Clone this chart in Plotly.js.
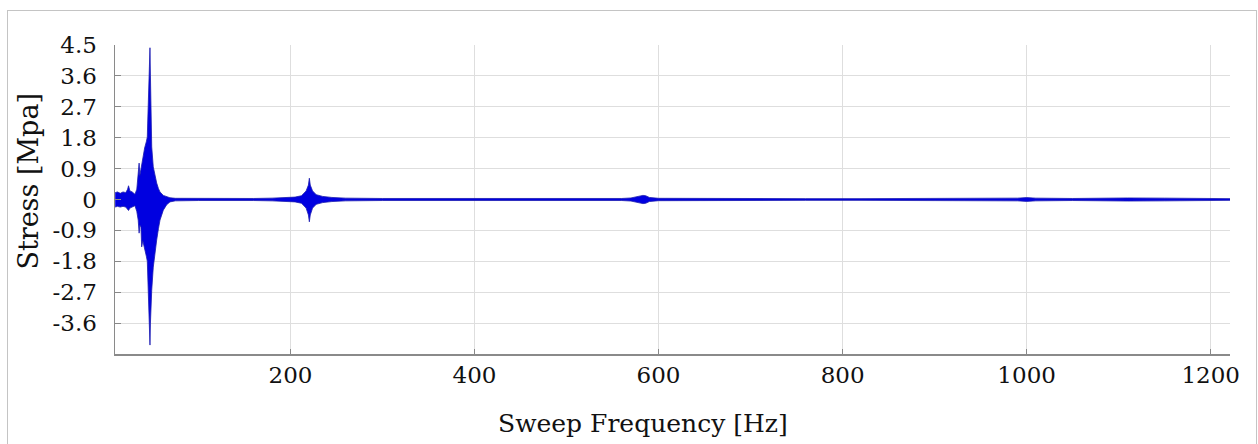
<!DOCTYPE html>
<html>
<head>
<meta charset="utf-8">
<script src="https://cdn.plot.ly/plotly-3.0.1.min.js"></script>
<style>
  html, body { margin: 0; padding: 0; background: #fff; }
  #chart { position: absolute; left: 0; top: 0; width: 1258px; height: 444px; }
  #frame { position: absolute; left: 7px; top: 10px; width: 1248px; height: 450px;
           border: 1px solid #c4c4c4; pointer-events: none; }
</style>
</head>
<body>
<div id="chart"></div>
<div id="frame"></div>
<script>
const freqHz = [9.5, 12, 15, 18, 21, 23, 24, 25.5, 28, 31, 33, 34.5, 35.5, 36.3, 37.5, 38.3, 39.5, 41.5, 43.5, 44.4, 44.8, 45.5, 46.2, 46.8, 47.3, 47.8, 48.4, 49.2, 50.9, 52.5, 54.6, 56.5, 58.2, 61.8, 65.5, 69, 75,
  100, 130, 160, 180, 195, 205, 212, 217, 219.5, 220.5, 221.5, 224, 228, 235, 245, 260, 300, 360, 420, 480, 530, 560, 570, 575, 580, 583, 586, 590, 600,
  650, 700, 760, 820, 880, 940, 990, 1000, 1010, 1050, 1070, 1080, 1110, 1150, 1170, 1200, 1221];
const upperMPa = [0.20, 0.22, 0.18, 0.22, 0.20, 0.30, 0.40, 0.25, 0.22, 0.15, 0.30, 0.80, 1.06, 0.70, 0.90, 1.10, 1.30, 1.50, 1.70, 1.82, 2.20, 2.70, 3.40, 4.00, 4.42, 3.60, 2.40, 1.53, 0.95, 0.70, 0.48, 0.32, 0.22, 0.12, 0.08, 0.05, 0.035,
  0.03, 0.025, 0.03, 0.04, 0.05, 0.07, 0.11, 0.25, 0.42, 0.62, 0.42, 0.25, 0.14, 0.09, 0.06, 0.04, 0.03, 0.025, 0.025, 0.025, 0.025, 0.03, 0.045, 0.08, 0.11, 0.12, 0.11, 0.06, 0.035,
  0.025, 0.025, 0.025, 0.025, 0.025, 0.03, 0.04, 0.055, 0.04, 0.03, 0.035, 0.05, 0.045, 0.04, 0.03, 0.025, 0.025];
const lowerMPa = [-0.22, -0.20, -0.22, -0.20, -0.22, -0.28, -0.32, -0.25, -0.22, -0.18, -0.35, -0.60, -0.98, -0.75, -0.80, -1.38, -1.20, -1.40, -1.67, -1.80, -2.14, -2.50, -3.20, -3.80, -4.24, -3.60, -2.90, -2.64, -1.97, -1.55, -1.18, -0.85, -0.60, -0.31, -0.15, -0.07, -0.04,
  -0.03, -0.025, -0.03, -0.04, -0.05, -0.07, -0.11, -0.25, -0.45, -0.65, -0.45, -0.25, -0.14, -0.09, -0.06, -0.04, -0.03, -0.025, -0.025, -0.025, -0.025, -0.03, -0.045, -0.08, -0.11, -0.12, -0.11, -0.06, -0.035,
  -0.025, -0.025, -0.025, -0.025, -0.025, -0.03, -0.04, -0.055, -0.04, -0.03, -0.035, -0.05, -0.045, -0.04, -0.03, -0.025, -0.025];

const yTickVals = [-3.6, -2.7, -1.8, -0.9, 0, 0.9, 1.8, 2.7, 3.6, 4.5];
const yTickText = ['-3.6', '-2.7', '-1.8', '-0.9', '0', '0.9', '1.8', '2.7', '3.6', '4.5'];
const xTickVals = [200, 400, 600, 800, 1000, 1200];
const xTickText = ['200', '400', '600', '800', '1000', '1200'];
const xTitle = 'Sweep Frequency [Hz]';
const yTitle = 'Stress [Mpa]';

const blue = '#0000e0';
const traces = [
  { x: freqHz, y: upperMPa, type: 'scatter', mode: 'lines',
    line: { color: '#1a1ab0', width: 0.8 }, hoverinfo: 'skip', showlegend: false },
  { x: freqHz, y: lowerMPa, type: 'scatter', mode: 'lines', fill: 'tonexty',
    fillcolor: blue, line: { color: '#1a1ab0', width: 0.8 }, hoverinfo: 'skip', showlegend: false }
];

const fam = '"DejaVu Serif", "Liberation Serif", serif';
const layout = {
  width: 1258, height: 444,
  margin: { l: 115, r: 28, t: 45, b: 90 },
  paper_bgcolor: '#ffffff', plot_bgcolor: '#ffffff',
  showlegend: false,
  font: { family: fam, color: '#111' },
  xaxis: {
    range: [9.3, 1221],
    tickvals: xTickVals, ticktext: xTickText,
    tickfont: { family: fam, size: 23, color: '#111' },
    ticks: 'inside', ticklen: 5, tickcolor: '#888',
    showgrid: true, gridcolor: '#dedede', gridwidth: 1,
    showline: true, linecolor: '#8a8a8a', linewidth: 1.5,
    zeroline: false,
    ticklabelstandoff: 0
  },
  yaxis: {
    range: [-4.5, 4.5],
    tickvals: yTickVals, ticktext: yTickText,
    tickfont: { family: fam, size: 23, color: '#111' },
    ticks: 'inside', ticklen: 6, tickcolor: '#888',
    showgrid: true, gridcolor: '#dedede', gridwidth: 1,
    showline: true, linecolor: '#8a8a8a', linewidth: 1.5,
    zeroline: false,
    ticklabelstandoff: 12
  },
  annotations: [
    { text: xTitle, xref: 'paper', yref: 'paper', x: 0.4735, y: -0.2265,
      xanchor: 'center', yanchor: 'middle', showarrow: false,
      font: { family: fam, size: 25, color: '#111' } },
    { text: yTitle, xref: 'paper', yref: 'paper', x: -0.0771, y: 0.558,
      xanchor: 'center', yanchor: 'middle', showarrow: false, textangle: -90,
      font: { family: fam, size: 27, color: '#111' } }
  ]
};

Plotly.newPlot('chart', traces, layout, { displayModeBar: false, staticPlot: true });
</script>
</body>
</html>
